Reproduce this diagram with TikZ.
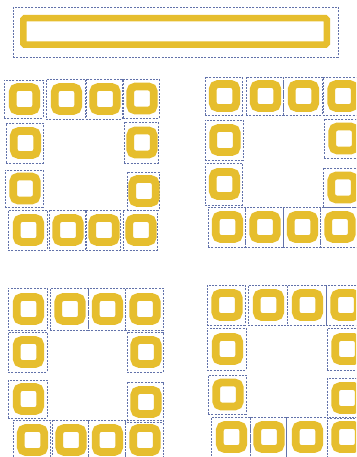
\documentclass[tikz,border=0pt]{standalone}
\definecolor{ygold}{HTML}{E6BE2E}
\definecolor{dashblue}{HTML}{6272AA}
\tikzset{
 cellbox/.style={draw=dashblue, dash pattern=on 2pt off 1.3pt, line width=0.75pt, inner sep=0pt, outer sep=0pt, rectangle},
 ring/.style={draw=ygold, line width=7.8pt, rounded corners=5pt, minimum width=23.5pt, minimum height=24pt, inner sep=0pt, rectangle},
 barring/.style={draw=ygold, line width=6.5pt, rounded corners=1.5pt, minimum width=303.5pt, minimum height=26.5pt, inner sep=0pt, rectangle},
}
\newcommand\mycell[5]{%
 \node[cellbox, minimum width={(#4)-(#2)}, minimum height={(#5)-(#3)}] (#1) at ({((#2)+(#4))/2},{((#3)+(#5))/2}) {};
 \node[ring] (#1r) at ([xshift=1pt]#1.center) {};
}
\begin{document}
\begin{tikzpicture}[x=1pt,y=-1pt]
\fill[white] (0,0) rectangle (356,457);
\clip (0,0) rectangle (356,457);
\useasboundingbox (0,0) rectangle (356,457);
% top bar
\node[cellbox, minimum width=325pt, minimum height=50pt] (bar) at (175.5,32) {};
\node[barring] (barr) at (175,31.5) {};
% group 1 (top-left)
\mycell{a1}{4}{80}{43}{118}
\mycell{a2}{46}{79}{85}{119}
\mycell{a3}{86}{79}{122}{119}
\mycell{a4}{123}{79}{159}{118}
\mycell{a5}{6}{123}{43}{163}
\mycell{a6}{124}{122}{158}{163}
\mycell{a7}{5}{170}{43}{207}
\mycell{a8}{127}{172}{159}{210}
\mycell{a9}{8}{210}{47}{250}
\mycell{a10}{49}{210}{85}{250}
\mycell{a11}{86}{210}{120}{250}
\mycell{a12}{123}{210}{157}{250}
% group 2 (top-right)
\mycell{b1}{205}{77}{242}{115}
\mycell{b2}{246}{77}{283}{115}
\mycell{b3}{283}{77}{322}{115}
\mycell{b4}{323}{77}{361}{115}
\mycell{b5}{205}{120}{243}{160}
\mycell{b6}{324}{119}{362}{158}
\mycell{b7}{205}{163}{242}{205}
\mycell{b8}{323}{168}{361}{207}
\mycell{b9}{208}{207}{245}{247}
\mycell{b10}{245}{207}{283}{247}
\mycell{b11}{283}{207}{320}{247}
\mycell{b12}{320}{207}{358}{247}
% group 3 (bottom-left)
\mycell{c1}{8}{288}{47}{330}
\mycell{c2}{50}{288}{88}{330}
\mycell{c3}{88}{288}{125}{330}
\mycell{c4}{125}{288}{163}{330}
\mycell{c5}{8}{332}{47}{372}
\mycell{c6}{127}{332}{163}{372}
\mycell{c7}{8}{380}{47}{418}
\mycell{c8}{127}{382}{163}{422}
\mycell{c9}{13}{420}{50}{460}
\mycell{c10}{52}{420}{88}{460}
\mycell{c11}{88}{420}{125}{460}
\mycell{c12}{125}{420}{163}{460}
% group 4 (bottom-right)
\mycell{d1}{207}{285}{245}{325}
\mycell{d2}{248}{285}{287}{325}
\mycell{d3}{287}{285}{326}{325}
\mycell{d4}{326}{285}{364}{325}
\mycell{d5}{207}{328}{246}{370}
\mycell{d6}{327}{328}{365}{370}
\mycell{d7}{208}{375}{246}{414}
\mycell{d8}{327}{378}{365}{418}
\mycell{d9}{211}{417}{250}{457}
\mycell{d10}{250}{417}{286}{457}
\mycell{d11}{286}{417}{327}{457}
\mycell{d12}{327}{417}{365}{457}
\end{tikzpicture}
\end{document}
